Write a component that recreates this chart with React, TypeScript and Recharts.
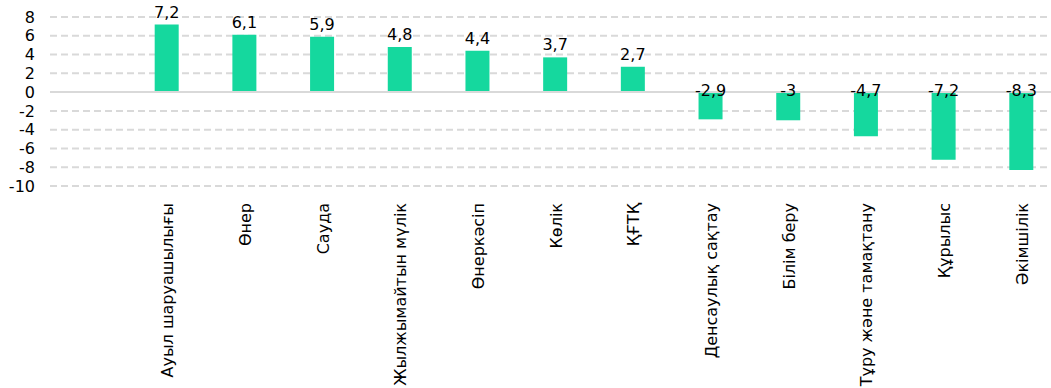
import React from 'react';
import { BarChart, Bar, XAxis, YAxis, CartesianGrid, ReferenceLine, LabelList } from 'recharts';

const categories = [
  '',
  'Ауыл шаруашылығы',
  'Өнер',
  'Сауда',
  'Жылжымайтын мүлік',
  'Өнеркәсіп',
  'Көлік',
  'ҚҒТҚ',
  'Денсаулық сақтау',
  'Білім беру',
  'Тұру және тамақтану',
  'Құрылыс',
  'Әкімшілік',
];

const values: (number | null)[] = [null, 7.2, 6.1, 5.9, 4.8, 4.4, 3.7, 2.7, -2.9, -3, -4.7, -7.2, -8.3];

const yTicks = [-10, -8, -6, -4, -2, 0, 2, 4, 6, 8];

const data = categories.map((name, i) => ({ name, value: values[i] }));

const fmt = (v: number) => String(v).replace('.', ',');

const ValueLabel = (props: any) => {
  const { x, y, width, height, value } = props;
  if (value === null || value === undefined) return null;
  const top = Math.min(y, y + height);
  const cx = x + width / 2;
  const ty = value >= 0 ? top - 7 : top + 4;
  return (
    <text x={cx} y={ty} textAnchor="middle" fill="#000" fontSize={16} fontFamily="DejaVu Sans">
      {fmt(value)}
    </text>
  );
};

// rotated category label, text ends at the top and is centred on the bar
const CategoryTick = (props: any) => {
  const { x, y, payload } = props;
  return (
    <g transform={`translate(${x + 1},${y + 11})`}>
      <text transform="rotate(-90)" x={0} y={0} dy="0.35em" textAnchor="end" fill="#000" fontSize={16} fontFamily="DejaVu Sans">
        {payload.value}
      </text>
    </g>
  );
};

const App: React.FC = () => {
  return (
    <div style={{ position: 'absolute', left: 0, top: 0, width: 1051, height: 388, overflow: 'hidden', background: '#fff' }}>
      <BarChart
        width={1060}
        height={388}
        data={data}
        margin={{ top: 17, right: 0, left: 0, bottom: 0 }}
        barSize={24}
      >
        <CartesianGrid vertical={false} stroke="#d9d9d9" strokeDasharray="7 4" strokeWidth={2} />
        <XAxis
          dataKey="name"
          interval={0}
          axisLine={false}
          tickLine={false}
          height={202}
          tickMargin={0}
          tick={<CategoryTick />}
        />
        <YAxis
          domain={[-10, 8]}
          ticks={yTicks}
          interval={0}
          width={50}
          axisLine={false}
          tickLine={false}
          tickMargin={9}
          tick={{ fill: '#000', fontSize: 16, fontFamily: 'DejaVu Sans' }}
        />
        <ReferenceLine y={0} stroke="#d9d9d9" strokeWidth={2} />
        <Bar dataKey="value" fill="#15d89e" isAnimationActive={false}>
          <LabelList dataKey="value" content={<ValueLabel />} />
        </Bar>
      </BarChart>
    </div>
  );
};

export default App;
